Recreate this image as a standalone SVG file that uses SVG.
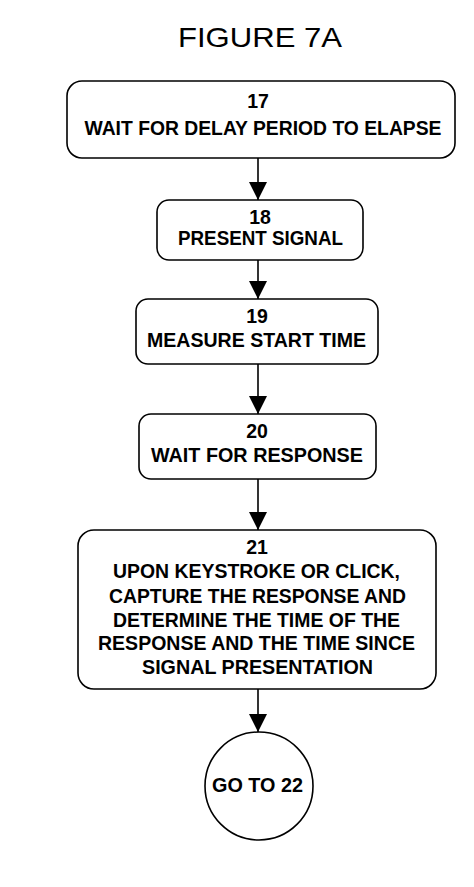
<svg xmlns="http://www.w3.org/2000/svg" width="474" height="887" viewBox="0 0 474 887">
<style>
.box{fill:#fff;stroke:#000;stroke-width:1.6}
.t{font-family:"Liberation Sans",Arial,sans-serif;font-weight:bold;font-size:19.5px;fill:#000;text-anchor:middle}
.title{font-family:"Liberation Sans",Arial,sans-serif;font-size:28px;fill:#000;text-anchor:middle}
.c{stroke:#000;stroke-width:1.6;fill:none}
</style>
<defs>
<marker id="ah" markerUnits="userSpaceOnUse" markerWidth="20" markerHeight="18" refX="18" refY="9" orient="auto">
<polygon points="0,0 18,9 0,18" fill="#000"/>
</marker>
</defs>
<rect width="474" height="887" fill="#fff"/>
<text class="title" x="260" y="47" textLength="164" lengthAdjust="spacingAndGlyphs">FIGURE 7A</text>
<g id="connectors">
<line class="c" x1="258" y1="158" x2="258" y2="200" marker-end="url(#ah)"/>
<line class="c" x1="258" y1="260" x2="258" y2="299" marker-end="url(#ah)"/>
<line class="c" x1="258" y1="364" x2="258" y2="414" marker-end="url(#ah)"/>
<line class="c" x1="258" y1="479" x2="258" y2="530" marker-end="url(#ah)"/>
<line class="c" x1="258" y1="689" x2="258" y2="732" marker-end="url(#ah)"/>
</g>
<g id="n17">
<rect class="box" x="67" y="81" width="388" height="77" rx="15"/>
<text class="t" x="258" y="108">17</text>
<text class="t" x="263" y="135" textLength="357" lengthAdjust="spacingAndGlyphs">WAIT FOR DELAY PERIOD TO ELAPSE</text>
</g>
<g id="n18">
<rect class="box" x="157" y="200" width="206" height="60" rx="12"/>
<text class="t" x="260" y="224">18</text>
<text class="t" x="260.5" y="245" textLength="165" lengthAdjust="spacingAndGlyphs">PRESENT SIGNAL</text>
</g>
<g id="n19">
<rect class="box" x="136" y="299" width="242" height="65" rx="12"/>
<text class="t" x="257" y="323">19</text>
<text class="t" x="256.5" y="347" textLength="219" lengthAdjust="spacingAndGlyphs">MEASURE START TIME</text>
</g>
<g id="n20">
<rect class="box" x="139" y="414" width="237" height="65" rx="12"/>
<text class="t" x="257" y="438">20</text>
<text class="t" x="257" y="462" textLength="212" lengthAdjust="spacingAndGlyphs">WAIT FOR RESPONSE</text>
</g>
<g id="n21">
<rect class="box" x="78" y="530" width="358" height="159" rx="16"/>
<text class="t" x="257" y="554">21</text>
<text class="t" x="256.5" y="578" textLength="287" lengthAdjust="spacingAndGlyphs">UPON KEYSTROKE OR CLICK,</text>
<text class="t" x="257.5" y="603" textLength="297" lengthAdjust="spacingAndGlyphs">CAPTURE THE RESPONSE AND</text>
<text class="t" x="256.5" y="627" textLength="287" lengthAdjust="spacingAndGlyphs">DETERMINE THE TIME OF THE</text>
<text class="t" x="256.5" y="650" textLength="317" lengthAdjust="spacingAndGlyphs">RESPONSE AND THE TIME SINCE</text>
<text class="t" x="257.5" y="674" textLength="231" lengthAdjust="spacingAndGlyphs">SIGNAL PRESENTATION</text>
</g>
<g id="n22">
<circle class="box" cx="259" cy="786" r="54"/>
<text class="t" x="257.5" y="792" textLength="91" lengthAdjust="spacingAndGlyphs">GO TO 22</text>
</g>
</svg>
